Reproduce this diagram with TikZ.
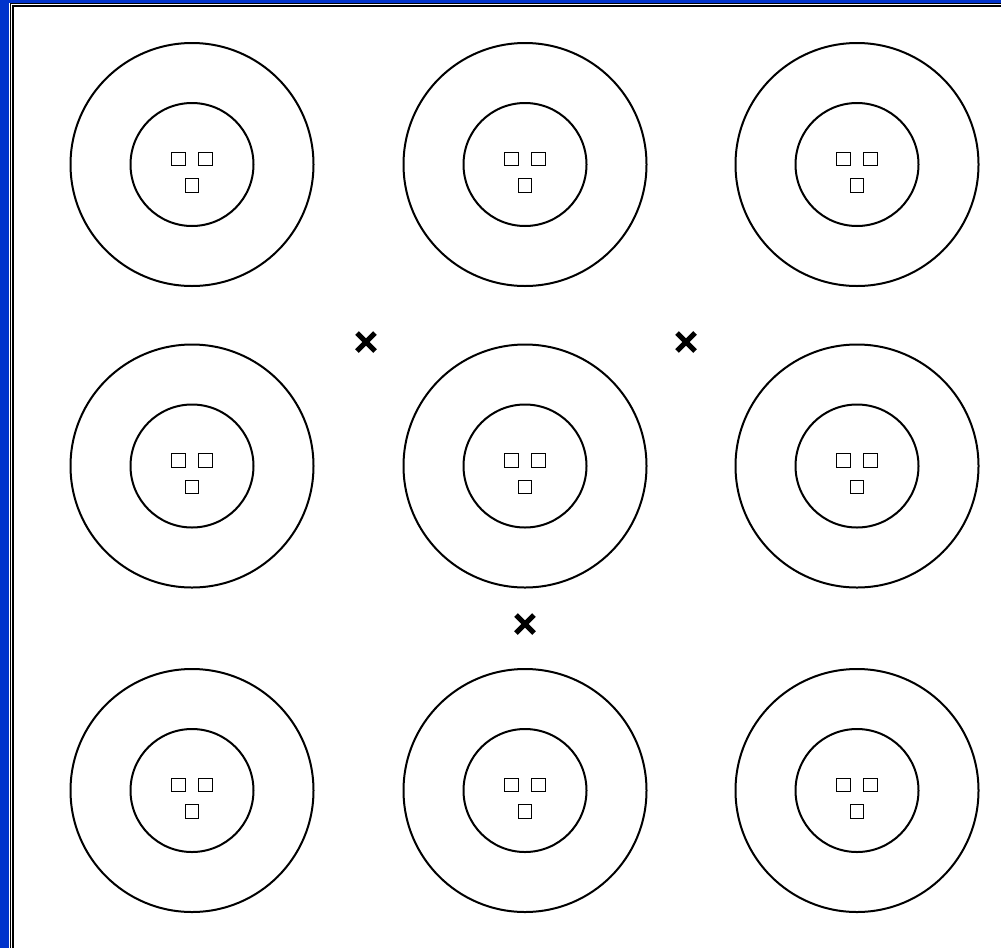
\documentclass[tikz,border=0pt]{standalone}
\usetikzlibrary{calc}
\definecolor{frameblue}{RGB}{0,51,204}
\tikzset{
  outerring/.style={circle, draw=black, line width=1pt, minimum size=121.5pt, inner sep=0pt},
  innerring/.style={circle, draw=black, line width=1pt, minimum size=61.5pt, inner sep=0pt},
  sq/.style={rectangle, draw=black, line width=0.6pt, minimum size=6.7pt, inner sep=0pt},
  crossmark/.style={line width=2.6pt, black},
  frameline/.style={line width=0.6pt, black}
}
\begin{document}
\begin{tikzpicture}[x=0.5pt, y=-0.5pt]
\useasboundingbox (0,0) rectangle (1001,948);
\fill[frameblue] (0,0) rectangle (1001,948);
\fill[white] (9,2.5) rectangle (1001,948);
\draw[frameline] (10.5,948) -- (10.5,3.5) -- (1001,3.5);
\draw[frameline] (13,948) -- (13,6) -- (1001,6);
\foreach \cx/\c in {192/a,525/b,857/c}{
  \foreach \cy/\r in {164.5/1,466/2,790.5/3}{
    \node[outerring] (o\c\r) at (\cx,\cy) {};
    \node[innerring] (i\c\r) at (\cx,\cy) {};
    \node[sq] (s\c\r a) at ($(\cx,\cy)+(-13.5,-5.5)$) {};
    \node[sq] (s\c\r b) at ($(\cx,\cy)+(13.5,-5.5)$) {};
    \node[sq] (s\c\r c) at ($(\cx,\cy)+(0,21)$) {};
  }
}
\foreach \px/\py/\n in {366/342/x1,686/342/x2,525/624/x3}{
  \coordinate (\n) at (\px,\py);
  \draw[crossmark] ($(\n)+(-9,-9)$) -- ($(\n)+(9,9)$);
  \draw[crossmark] ($(\n)+(-9,9)$) -- ($(\n)+(9,-9)$);
}
\end{tikzpicture}
\end{document}
